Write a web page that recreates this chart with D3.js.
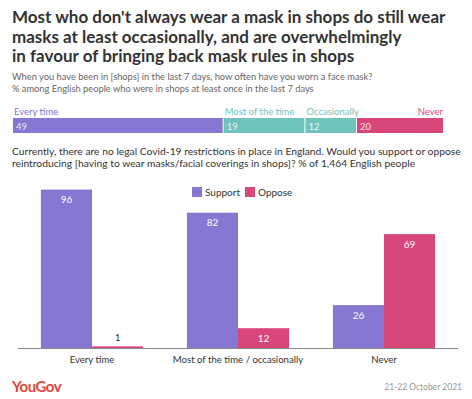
<!DOCTYPE html>
<html>
<head>
<meta charset="utf-8">
<script src="https://cdn.jsdelivr.net/npm/d3@7"></script>
<style>
  body { margin: 0; background: #fff; }
  text { font-family: Lato, "Open Sans", sans-serif; }
</style>
</head>
<body>
<div id="chart"></div>
<script>
// data
const titleLines = [
  "Most who don't always wear a mask in shops do still wear",
  "masks at least occasionally, and are overwhelmingly",
  "in favour of bringing back mask rules in shops"
]
const subLines = [
  "When you have been in [shops] in the last 7 days, how often have you worn a face mask?",
  "% among English people who were in shops at least once in the last 7 days"
]
const questionLines = [
  "Currently, there are no legal Covid-19 restrictions in place in England. Would you support or oppose",
  "reintroducing [having to wear masks/facial coverings in shops]? % of 1,464 English people"
]
const freqLabels = ["Every time", "Most of the time", "Occasionally", "Never"]
const freqValues = [49, 19, 12, 20]
const groups = ["Every time", "Most of the time / occasionally", "Never"]
const seriesNames = ["Support", "Oppose"]
const support = [96, 82, 26]
const oppose = [1, 12, 69]

const W = 472, H = 399
const purple = "#8677d2", teal = "#6fc3bd", pink = "#d9467b"
const freqColors = [purple, teal, teal, pink]
const seriesColors = [purple, pink]

const svg = d3.select("#chart").append("svg")
  .attr("width", W).attr("height", H)

// title
svg.append("g").selectAll("text").data(titleLines).enter().append("text")
  .attr("x", 12).attr("y", (d, i) => 23 + i * 19.5)
  .attr("font-size", 17).attr("font-weight", 700).attr("fill", "#333")
  .text(d => d)

svg.append("g").selectAll("text").data(subLines).enter().append("text")
  .attr("x", 12).attr("y", (d, i) => 80 + i * 12)
  .attr("font-size", 9.3).attr("fill", "#666")
  .text(d => d)

// stacked frequency bar
const xs = d3.scaleLinear().domain([0, 100]).range([13, 443])
let acc = 0
const stack = freqValues.map((v, i) => {
  const s = { label: freqLabels[i], value: v, x0: acc, x1: acc + v, color: freqColors[i] }
  acc += v
  return s
})
const sg = svg.append("g")
sg.selectAll("rect").data(stack).enter().append("rect")
  .attr("x", d => xs(d.x0))
  .attr("width", (d, i) => xs(d.x1) - xs(d.x0) - (i < stack.length - 1 ? 1 : 0))
  .attr("y", 118).attr("height", 15)
  .attr("fill", d => d.color)
sg.selectAll(".val").data(stack).enter().append("text")
  .attr("x", d => xs(d.x0) + 3).attr("y", 129.5)
  .attr("font-size", 9.5).attr("fill", "#fff").attr("fill-opacity", 0.85)
  .text(d => d.value)
sg.selectAll(".lab").data(stack).enter().append("text")
  .attr("x", (d, i) => i === stack.length - 1 ? xs(d.x1) : xs(d.x0) + 1)
  .attr("text-anchor", (d, i) => i === stack.length - 1 ? "end" : "start")
  .attr("y", 115).attr("font-size", 9.5)
  .attr("fill", d => d.color)
  .text(d => d.label)

svg.append("g").selectAll("text").data(questionLines).enter().append("text")
  .attr("x", 12).attr("y", (d, i) => 155 + i * 11.5)
  .attr("font-size", 10.3).attr("fill", "#333")
  .text(d => d)

// legend
const lg = svg.append("g").attr("transform", "translate(192,187)")
seriesNames.forEach((n, i) => {
  const g = lg.append("g").attr("transform", `translate(${i * 53},0)`)
  g.append("rect").attr("width", 10).attr("height", 10).attr("fill", seriesColors[i])
  g.append("text").attr("x", 13).attr("y", 9).attr("font-size", 10).attr("fill", "#333").text(n)
})

// grouped bars
const base = 348
const x0 = d3.scaleBand().domain(groups).range([19, 457]).paddingInner(0.3).paddingOuter(0.15)
const x1 = d3.scaleBand().domain(seriesNames).range([0, x0.bandwidth()])
const y = d3.scaleLinear().domain([0, 100]).range([base, base - 165])

const rows = groups.map((g, i) => ({ group: g, values: [support[i], oppose[i]] }))
const bg = svg.append("g").selectAll("g").data(rows).enter().append("g")
  .attr("transform", d => `translate(${x0(d.group)},0)`)
bg.selectAll("rect").data(d => d.values.map((v, j) => ({ key: seriesNames[j], value: v, color: seriesColors[j] })))
  .enter().append("rect")
  .attr("x", d => x1(d.key)).attr("width", x1.bandwidth())
  .attr("y", d => y(d.value)).attr("height", d => base - y(d.value))
  .attr("fill", d => d.color)
bg.selectAll("text").data(d => d.values.map((v, j) => ({ key: seriesNames[j], value: v })))
  .enter().append("text")
  .attr("x", d => x1(d.key) + x1.bandwidth() / 2)
  .attr("y", d => base - y(d.value) > 18 ? y(d.value) + 13.5 : y(d.value) - 5)
  .attr("text-anchor", "middle").attr("font-size", 10)
  .attr("fill", d => base - y(d.value) > 18 ? "#fff" : "#333")
  .text(d => d.value)

// axis
const ax = svg.append("g").attr("transform", `translate(0,${base})`)
  .call(d3.axisBottom(x0).tickSize(0).tickPadding(8))
ax.select(".domain").attr("stroke", "#888").attr("d", "M18,0.5H458")
ax.selectAll("text").attr("font-size", 9.6).attr("fill", "#333")
  .style("font-family", "Lato, 'Open Sans', sans-serif")

// footer
svg.append("text").attr("x", 12).attr("y", 392)
  .attr("font-size", 15).attr("font-weight", 700).attr("fill", "#e2453c")
  .attr("letter-spacing", -0.5).text("YouGov")
svg.append("text").attr("x", 462).attr("y", 390).attr("text-anchor", "end")
  .attr("font-size", 8.5).attr("fill", "#999").text("21-22 October 2021")
</script>
</body>
</html>
